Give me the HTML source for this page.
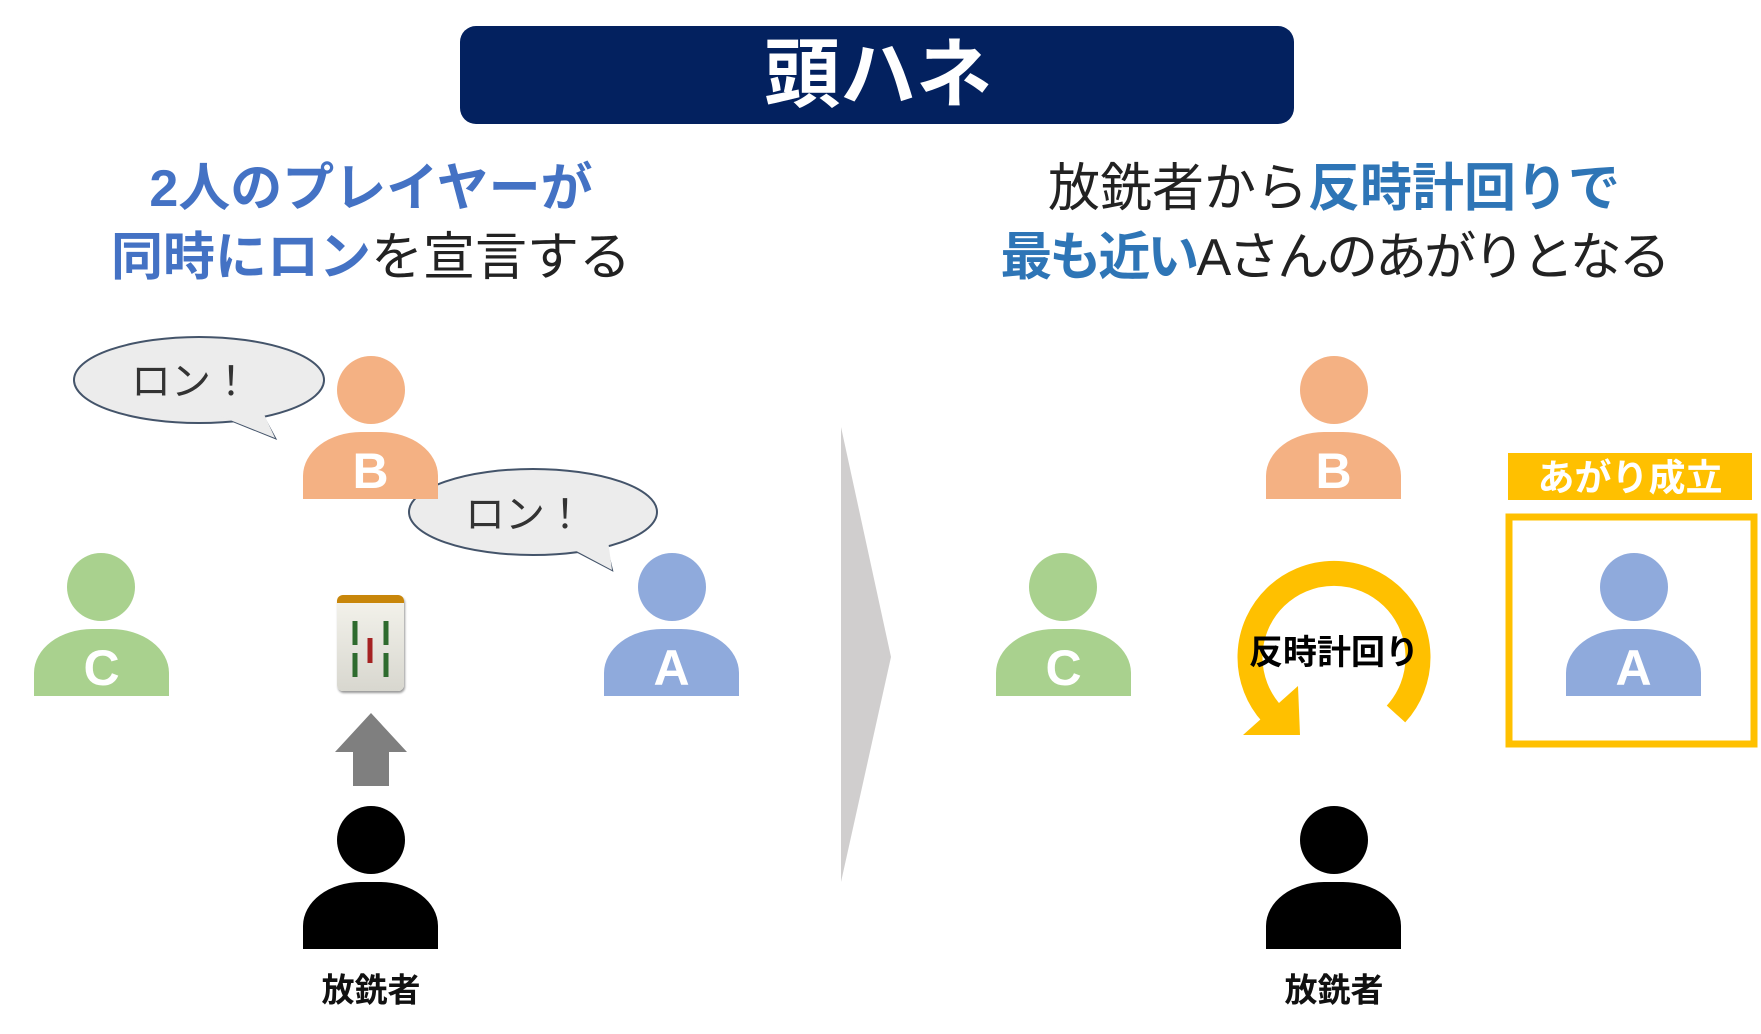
<!DOCTYPE html>
<html><head><meta charset="utf-8"><style>
*{margin:0;padding:0;box-sizing:border-box}
body{width:1761px;height:1034px;background:#fff;position:relative;overflow:hidden;font-family:"Liberation Sans","Noto Sans CJK JP",sans-serif}
.a{position:absolute}
.t{position:absolute;white-space:nowrap;transform:translate(-50%,-50%);line-height:1}
.head{position:absolute;border-radius:50%}
.body{position:absolute;width:135px;height:67px;border-radius:58px 58px 0 0/44px 44px 0 0;color:#fff;font-weight:bold;font-size:50px;text-align:center;line-height:78px}
.b{color:#4472c4;font-weight:bold}
.b2{color:#2e75b6;font-weight:bold}
</style></head><body>
<div class="a" style="left:460px;top:26px;width:834px;height:98px;background:#03215f;border-radius:16px"></div>
<div class="t" style="left:878px;top:76px;color:#fff;font-size:76px;font-weight:bold">頭ハネ</div>

<div class="t" style="left:371px;top:189px;font-size:52px"><span class="b">2人のプレイヤーが</span></div>
<div class="t" style="left:371px;top:258px;font-size:52px;color:#222"><span class="b">同時にロン</span>を宣言する</div>
<div class="t" style="left:1334px;top:189px;font-size:52px;color:#222">放銑者から<span class="b2">反時計回りで</span></div>
<div class="t" style="left:1334px;top:258px;font-size:52px;color:#222;letter-spacing:-3px"><span class="b2">最も近い</span>Aさんのあがりとなる</div>

<svg class="a" style="left:0;top:0" width="1761" height="1034">
<path d="M230,420 L275,438 L262,414 Z" fill="#ececec" stroke="#44546a" stroke-width="2"/>
<ellipse cx="199" cy="380" rx="125" ry="43" fill="#ececec" stroke="#44546a" stroke-width="2"/>
<path d="M220,416 L275,438 L262,410" fill="#ececec" stroke="none"/>
<path d="M570,548 L612,570 L606,545 Z" fill="#ececec" stroke="#44546a" stroke-width="2"/>
<ellipse cx="533" cy="512" rx="124" ry="43" fill="#ececec" stroke="#44546a" stroke-width="2"/>
<path d="M565,545 L612,570 L608,540" fill="#ececec" stroke="none"/>
<polygon points="841,427 891,657 841,882" fill="#d0cece"/>
<polygon points="371,713 407,752 389,752 389,786 353,786 353,752 335,752" fill="#7f7f7f"/>
<path d="M1396,714 A84,84 0 1 0 1272,714" fill="none" stroke="#ffc000" stroke-width="25"/>
<polygon points="1243,735 1300,735 1298,686" fill="#ffc000"/>
<rect x="1509" y="517" width="245" height="227" fill="none" stroke="#ffc000" stroke-width="7"/>
</svg>
<div class="t" style="left:191px;top:382px;font-size:40px;color:#333">ロン！</div>
<div class="t" style="left:525px;top:515px;font-size:40px;color:#333">ロン！</div>

<div class="a" style="left:337px;top:595px;width:67px;height:96px;background:linear-gradient(#f2f1ea,#d8d7cf);border-radius:6px;border-top:8px solid #c8860a;box-shadow:1px 2px 2px #999"></div>
<svg class="a" style="left:337px;top:603px" width="67" height="88">
<g stroke="#2e6b2e" stroke-width="5"><line x1="18" y1="18" x2="18" y2="42"/><line x1="49" y1="18" x2="49" y2="42"/><line x1="18" y1="50" x2="18" y2="74"/><line x1="49" y1="50" x2="49" y2="74"/></g>
<line x1="33" y1="35" x2="33" y2="60" stroke="#a52222" stroke-width="5"/>
</svg>

<div class="a" style="left:1508px;top:453px;width:244px;height:47px;background:#ffc000"></div>
<div class="t" style="left:1630px;top:478px;font-size:37px;color:#fff;font-weight:bold">あがり成立</div>
<div class="t" style="left:1334px;top:653px;font-size:34px;color:#000;font-weight:bold">反時計回り</div>

<div class="head" style="left:337px;top:356px;width:68px;height:68px;background:#f4b183"></div>
<div class="body" style="left:303px;top:432px;background:#f4b183">B</div>
<div class="head" style="left:67px;top:553px;width:68px;height:68px;background:#a9d18e"></div>
<div class="body" style="left:34px;top:629px;background:#a9d18e">C</div>
<div class="head" style="left:638px;top:553px;width:68px;height:68px;background:#8faadc"></div>
<div class="body" style="left:604px;top:629px;background:#8faadc">A</div>
<div class="head" style="left:337px;top:806px;width:68px;height:68px;background:#000"></div>
<div class="body" style="left:303px;top:882px;background:#000"></div>
<div class="t" style="left:371px;top:990px;font-size:33px;font-weight:bold;color:#111">放銑者</div>

<div class="head" style="left:1300px;top:356px;width:68px;height:68px;background:#f4b183"></div>
<div class="body" style="left:1266px;top:432px;background:#f4b183">B</div>
<div class="head" style="left:1029px;top:553px;width:68px;height:68px;background:#a9d18e"></div>
<div class="body" style="left:996px;top:629px;background:#a9d18e">C</div>
<div class="head" style="left:1600px;top:553px;width:68px;height:68px;background:#8faadc"></div>
<div class="body" style="left:1566px;top:629px;background:#8faadc">A</div>
<div class="head" style="left:1300px;top:806px;width:68px;height:68px;background:#000"></div>
<div class="body" style="left:1266px;top:882px;background:#000"></div>
<div class="t" style="left:1334px;top:990px;font-size:33px;font-weight:bold;color:#111">放銑者</div>
</body></html>
